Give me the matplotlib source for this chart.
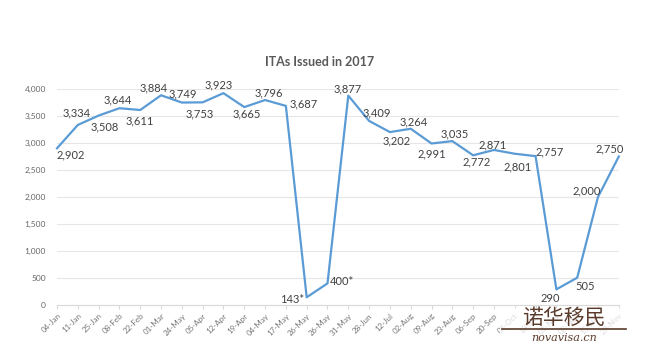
import matplotlib.pyplot as plt

plt.rcParams['font.family'] = ['Lato', 'DejaVu Sans']

# draw dates and number of ITAs issued
dates = ['04-Jan', '11-Jan', '25-Jan', '08-Feb', '22-Feb', '01-Mar', '24-May',
         '05-Apr', '12-Apr', '19-Apr', '04-May', '17-May', '26-May', '26-May',
         '31-May', '28-Jun', '12-Jul', '02-Aug', '09-Aug', '23-Aug', '06-Sep',
         '20-Sep', '04-Oct', '18-Oct', '01-Nov', '08-Nov', '15-Nov', '29-Nov']
itas = [2902, 3334, 3508, 3644, 3611, 3884, 3749, 3753, 3923, 3665, 3796, 3687,
        143, 400, 3877, 3409, 3202, 3264, 2991, 3035, 2772, 2871, 2801, 2757,
        290, 505, 2000, 2750]
labels = [f'{v:,}' for v in itas]
labels[12] += '*'
labels[13] += '*'

# label offsets in pixels (dx, dy) picked to mimic the original
offsets = [(14, -7), (-1, 12), (6, -11), (-2, 8), (0, -11), (-7, 7), (1, 9),
           (-3, -12), (-5, 8), (2, -7), (4, 7), (18, 2), (-15, -2), (14, 2),
           (-1, 7), (8, 8), (7, -9), (3, 7), (0, -10), (2, 7), (3, -7), (-1, 5),
           (3, -13), (14, 4), (-6, -9), (8, -9), (-11, 6), (-9, 8)]

fig = plt.figure(figsize=(6.51, 3.6), dpi=100)
ax = fig.add_axes([57 / 651, 1 - 305 / 360, (618.8 - 57) / 651, 216 / 360])

x = list(range(len(itas)))
ax.plot(x, itas, color='#5B9BD5', lw=1.6, clip_on=False, zorder=3)

for xi, v, lab, (dx, dy) in zip(x, itas, labels, offsets):
    ax.annotate(lab, (xi, v), xytext=(dx, dy), textcoords='offset pixels',
                ha='center', va='center', fontsize=8, color='#404040')

ax.set_xlim(0, len(itas) - 1)
ax.set_ylim(0, 4000)
ax.set_yticks(range(0, 4001, 500))
ax.set_yticklabels([f'{t:,}' for t in range(0, 4001, 500)])
ax.set_xticks(x)
ax.set_xticklabels(dates, rotation=45, ha='right', rotation_mode='anchor')
ax.tick_params(axis='y', length=0, labelsize=6, labelcolor='#666666', pad=8)
ax.tick_params(axis='x', length=3, color='#d9d9d9', labelsize=5.8,
               labelcolor='#777777', pad=2)
ax.grid(axis='y', color='#e6e6e6', lw=0.8)
ax.set_axisbelow(True)
for s in ['top', 'right', 'left']:
    ax.spines[s].set_visible(False)
ax.spines['bottom'].set_color('#d9d9d9')

fig.text(320 / 651, 1 - 62 / 360, 'ITAs Issued in 2017', ha='center', va='center',
         fontsize=9, fontweight='bold', color='#595959')

# watermark on a faded white patch
fig.patches.append(plt.Rectangle((500 / 651, 1 - 346 / 360), 128 / 651, 38 / 360,
                                 transform=fig.transFigure, facecolor='white',
                                 alpha=0.75, edgecolor='none', zorder=5))
fig.text(564 / 651, 1 - 318 / 360, '诺华移民', ha='center', va='center', fontsize=15,
         color='#5a3b2b', family=['Noto Sans CJK SC', 'DejaVu Sans'], zorder=6)
fig.text(564 / 651, 1 - 338 / 360, 'novavisa.cn', ha='center', va='center', fontsize=8,
         color='#5a3b2b', style='italic', family='DejaVu Serif', zorder=6)
fig.add_artist(plt.Line2D([502 / 651, 626 / 651], [1 - 329 / 360] * 2,
                          color='#5a3b2b', lw=1.2, zorder=6))

fig.savefig('out.png', dpi=100)
